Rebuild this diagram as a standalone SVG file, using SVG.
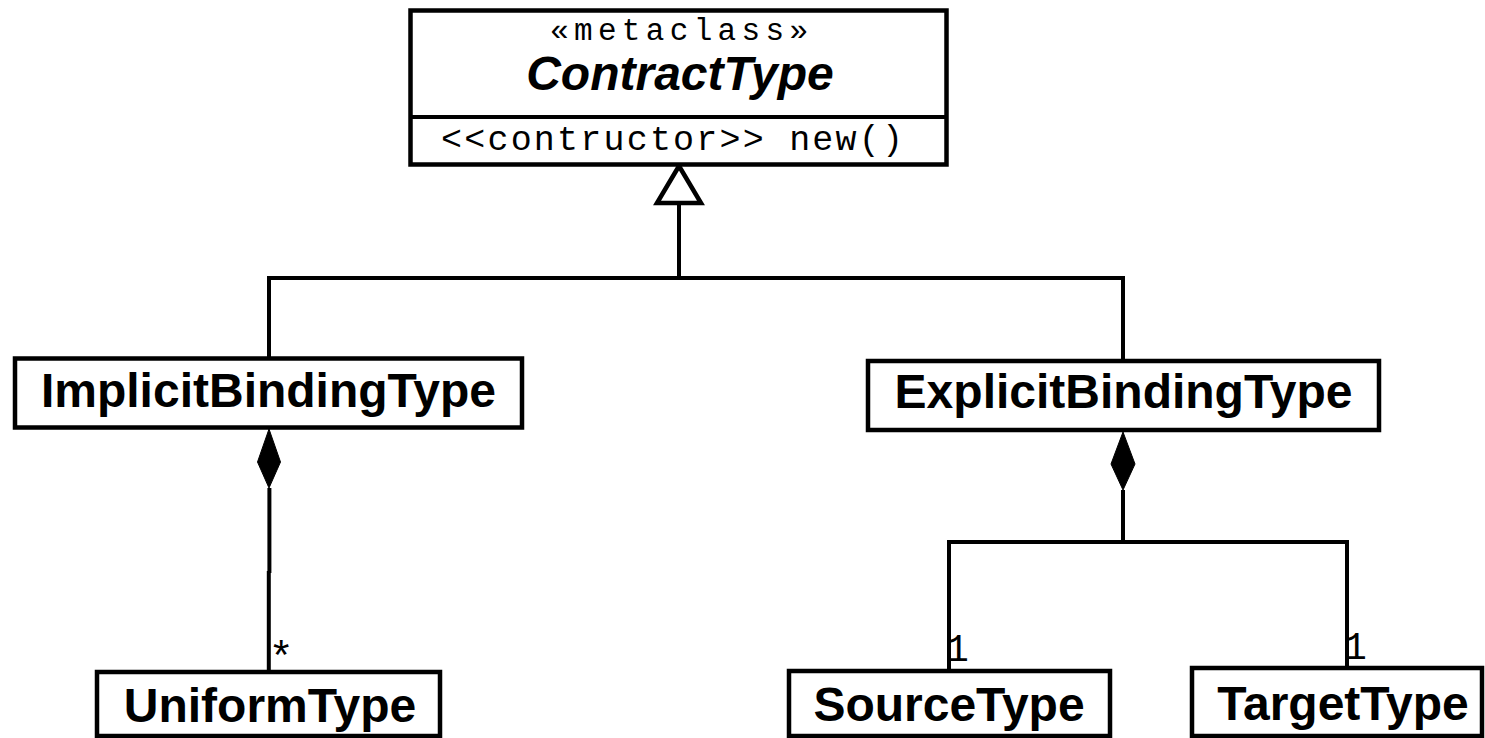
<svg xmlns="http://www.w3.org/2000/svg" width="1485" height="738" viewBox="0 0 1485 738">
  <style>
    .box { fill: #ffffff; stroke: #000000; stroke-width: 4.5; }
    .line { fill: none; stroke: #000000; stroke-width: 4; }
    .name { font-family: "Liberation Sans", Arial, sans-serif; font-weight: bold; font-size: 48px; fill: #000000; text-anchor: middle; }
    .abstract { font-style: italic; }
    .mono { font-family: "Liberation Mono", "Courier New", monospace; font-size: 35px; fill: #000000; }
    .stereo { font-size: 31px; }
    .mult { font-family: "Liberation Mono", "Courier New", monospace; font-size: 38px; fill: #000000; }
    .star { font-family: "Liberation Sans", Arial, sans-serif; font-size: 42px; fill: #000000; }
  </style>
  <rect width="1485" height="738" fill="#ffffff"/>

  <!-- connectors -->
  <g id="connectors">
    <!-- generalization to ContractType -->
    <path class="line" d="M269 359 V278 H1123 V361"/>
    <path class="line" d="M679 278 V203"/>
    <polygon points="679,166 657,203 701,203" fill="#ffffff" stroke="#000000" stroke-width="4.5" stroke-linejoin="miter"/>

    <!-- composition ImplicitBindingType -> UniformType -->
    <polygon points="269,429 280.5,462 269,488 257.5,462" fill="#000000" stroke="#000000" stroke-width="1"/>
    <path class="line" d="M269.4 488 V573"/>
    <path class="line" d="M268.8 571 V672"/>
    <text class="star" x="273" y="669">*</text>

    <!-- composition ExplicitBindingType -> SourceType / TargetType -->
    <polygon points="1123,432 1135,464 1123,490 1111,464" fill="#000000" stroke="#000000" stroke-width="1"/>
    <path class="line" d="M1123 490 V542"/>
    <path class="line" d="M949 671 V542 H1347 V668"/>
    <text class="mult" x="946" y="661">1</text>
    <text class="mult" x="1344" y="659">1</text>
  </g>

  <!-- ContractType metaclass -->
  <g id="ContractType">
    <rect class="box" x="410.5" y="10.5" width="536" height="154"/>
    <line class="line" x1="410.5" y1="117" x2="946.5" y2="117" stroke-width="4.5"/>
    <text class="mono stereo" x="550" y="40" textLength="258" lengthAdjust="spacing">«metaclass»</text>
    <text class="name abstract" x="680" y="90">ContractType</text>
    <text class="mono" x="441" y="150" textLength="462" lengthAdjust="spacing">&lt;&lt;contructor&gt;&gt; new()</text>
  </g>

  <g id="ImplicitBindingType">
    <rect class="box" x="15" y="358.5" width="507" height="69"/>
    <text class="name" x="268.5" y="407">ImplicitBindingType</text>
  </g>

  <g id="ExplicitBindingType">
    <rect class="box" x="868" y="361" width="511" height="69"/>
    <text class="name" x="1123.5" y="408">ExplicitBindingType</text>
  </g>

  <g id="UniformType">
    <rect class="box" x="97" y="672" width="343" height="64"/>
    <text class="name" x="270" y="722">UniformType</text>
  </g>

  <g id="SourceType">
    <rect class="box" x="789" y="671" width="321" height="65"/>
    <text class="name" x="949" y="721">SourceType</text>
  </g>

  <g id="TargetType">
    <rect class="box" x="1192" y="668" width="290" height="68"/>
    <text class="name" x="1343" y="720">TargetType</text>
  </g>
</svg>
